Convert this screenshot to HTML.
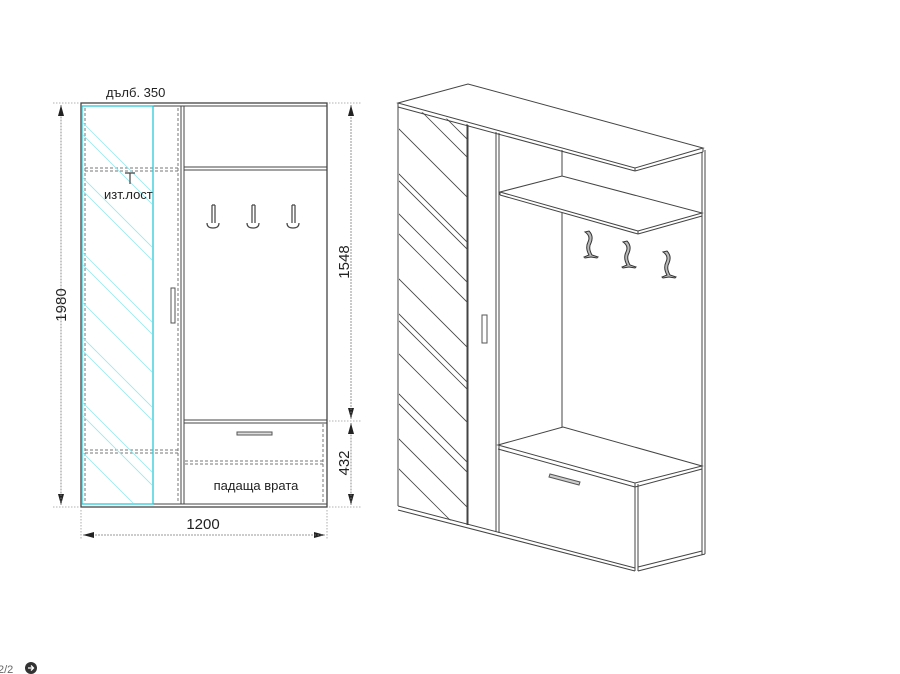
<!DOCTYPE html>
<html><head><meta charset="utf-8"><style>
html,body{margin:0;padding:0;background:#fff;}
svg{display:block;font-family:"Liberation Sans",sans-serif;}
</style></head><body>
<svg width="900" height="674" viewBox="0 0 900 674" xmlns="http://www.w3.org/2000/svg">
<defs>
<clipPath id="mir"><rect x="83" y="107" width="69" height="396"/></clipPath>
<clipPath id="mir2"><polygon points="399,106 467,124 467,525 399,506"/></clipPath>
<marker id="ar" markerUnits="userSpaceOnUse" markerWidth="12" markerHeight="8" refX="11" refY="4" orient="auto"><path d="M0,1 L11,4 L0,7z" fill="#222"/></marker>
</defs>
<g fill="none" stroke="#444" stroke-width="1">
<rect x="81" y="103" width="246" height="404" stroke-width="1.3"/>
<line x1="81" y1="106" x2="327" y2="106"/>
<line x1="81" y1="504" x2="327" y2="504"/>
<line x1="181" y1="106" x2="181" y2="504"/>
<line x1="184" y1="106" x2="184" y2="504"/>
<line x1="184" y1="167" x2="327" y2="167"/>
<line x1="184" y1="170" x2="327" y2="170"/>
<line x1="184" y1="420" x2="327" y2="420"/>
<line x1="184" y1="423" x2="327" y2="423"/>
</g>
<g fill="none" stroke="#777" stroke-width="1" stroke-dasharray="3,2">
<line x1="85" y1="108" x2="85" y2="502"/>
<line x1="178" y1="108" x2="178" y2="502"/>
<line x1="85" y1="168" x2="178" y2="168"/>
<line x1="85" y1="171" x2="178" y2="171"/>
<line x1="85" y1="450" x2="178" y2="450"/>
<line x1="85" y1="453" x2="178" y2="453"/>
<line x1="185" y1="461" x2="323" y2="461"/>
<line x1="185" y1="464" x2="323" y2="464"/>
<line x1="323" y1="424" x2="323" y2="502"/>
</g>
<rect x="82" y="106" width="71" height="398" fill="none" stroke="#2cc8d8" stroke-width="1.3"/>
<g clip-path="url(#mir)" stroke="#9be8ef" stroke-width="0.8">
<line x1="80" y1="120" x2="200" y2="240"/><line x1="80" y1="132" x2="200" y2="252"/>
<line x1="80" y1="175" x2="200" y2="295"/><line x1="80" y1="188" x2="200" y2="308"/>
<line x1="80" y1="250" x2="200" y2="370"/><line x1="80" y1="262" x2="200" y2="382"/>
<line x1="80" y1="300" x2="200" y2="420"/>
<line x1="80" y1="335" x2="200" y2="455"/><line x1="80" y1="348" x2="200" y2="468"/>
<line x1="80" y1="400" x2="200" y2="520"/><line x1="80" y1="413" x2="200" y2="533"/>
<line x1="80" y1="450" x2="200" y2="570"/>
</g>
<rect x="171" y="288" width="4" height="35" fill="#fff" stroke="#555"/>
<rect x="237" y="432" width="35" height="3" fill="#ddd" stroke="#555"/>
<g fill="none" stroke="#444" stroke-width="1.2">
<path d="M212,205 v18 M215,205 v18 M212,205 h3 M207,223 q0,5 6,5 q6,0 6,-5"/>
<path d="M252,205 v18 M255,205 v18 M252,205 h3 M247,223 q0,5 6,5 q6,0 6,-5"/>
<path d="M292,205 v18 M295,205 v18 M292,205 h3 M287,223 q0,5 6,5 q6,0 6,-5"/>
<path d="M125,173 h10 M130,173 v11"/>
</g>
<g font-size="13" fill="#222">
<text x="106" y="97">дълб. 350</text>
<text x="104" y="199">изт.лост</text>
<text x="256" y="490" text-anchor="middle">падаща врата</text>
<text x="203" y="529" text-anchor="middle" font-size="15">1200</text>
<text transform="translate(66,305) rotate(-90)" text-anchor="middle" font-size="15">1980</text>
<text transform="translate(349,262) rotate(-90)" text-anchor="middle" font-size="15">1548</text>
<text transform="translate(349,463) rotate(-90)" text-anchor="middle" font-size="15">432</text>
</g>
<g stroke="#999" stroke-width="0.8" stroke-dasharray="1.5,1.5" fill="none">
<line x1="53" y1="103" x2="80" y2="103"/><line x1="53" y1="507" x2="80" y2="507"/>
<line x1="329" y1="103" x2="362" y2="103"/><line x1="329" y1="507" x2="362" y2="507"/>
<line x1="329" y1="421" x2="362" y2="421"/>
<line x1="81" y1="510" x2="81" y2="540"/><line x1="327" y1="510" x2="327" y2="540"/>
</g>
<g stroke="#888" stroke-width="0.8" stroke-dasharray="1.5,1.5" fill="none" marker-start="url(#ar)" marker-end="url(#ar)">
<line x1="61" y1="105" x2="61" y2="505" marker-start="none"/><line x1="61" y1="505" x2="61" y2="105" marker-start="none"/>
<line x1="351" y1="105" x2="351" y2="419" marker-start="none"/><line x1="351" y1="419" x2="351" y2="105" marker-start="none"/>
<line x1="351" y1="423" x2="351" y2="505" marker-start="none"/><line x1="351" y1="505" x2="351" y2="423" marker-start="none"/>
<line x1="83" y1="535" x2="325" y2="535" marker-start="none"/><line x1="325" y1="535" x2="83" y2="535" marker-start="none"/>
</g>
<g fill="none" stroke="#444" stroke-width="1">
<polygon points="398,103 468,84 703,148 635,168" fill="#fff"/>
<line x1="398" y1="103" x2="398" y2="107"/><line x1="635" y1="168" x2="635" y2="171"/>
<line x1="398" y1="107" x2="635" y2="171"/>
<line x1="703" y1="148" x2="703" y2="152"/><line x1="703" y1="152" x2="635" y2="171"/>
<line x1="398" y1="107" x2="398" y2="506"/>
<line x1="467" y1="124" x2="467" y2="525"/>
<line x1="468" y1="125" x2="468" y2="525"/>
<line x1="496" y1="132" x2="496" y2="532"/>
<line x1="499" y1="133" x2="499" y2="533"/>
<line x1="702" y1="152" x2="702" y2="555"/><line x1="705" y1="150" x2="705" y2="554"/>
<line x1="562" y1="150" x2="562" y2="177"/>
<line x1="562" y1="213" x2="562" y2="427"/>
<polygon points="500,192 562,176 702,213 638,231" fill="#fff"/>
<line x1="500" y1="192" x2="500" y2="195"/><line x1="500" y1="195" x2="638" y2="234"/>
<line x1="638" y1="231" x2="638" y2="234"/><line x1="638" y1="234" x2="702" y2="216"/>
<polygon points="498,445 563,427 702,466 635,483" fill="#fff"/>
<line x1="498" y1="449" x2="635" y2="487"/>
<line x1="635" y1="483" x2="635" y2="571"/><line x1="638" y1="484" x2="638" y2="571"/>
<line x1="635" y1="487" x2="702" y2="469"/>
<line x1="398" y1="506" x2="635" y2="568"/>
<line x1="398" y1="510" x2="635" y2="571"/>
<line x1="638" y1="571" x2="705" y2="554"/>
<line x1="638" y1="567" x2="702" y2="551"/>
</g>
<g clip-path="url(#mir2)" stroke="#444" stroke-width="0.8">
<line x1="390" y1="120" x2="480" y2="210"/><line x1="420" y1="110" x2="480" y2="170"/>
<line x1="440" y1="112" x2="480" y2="152"/>
<line x1="390" y1="165" x2="480" y2="255"/><line x1="390" y1="172" x2="480" y2="262"/>
<line x1="390" y1="205" x2="480" y2="295"/><line x1="390" y1="225" x2="480" y2="315"/>
<line x1="390" y1="270" x2="480" y2="360"/>
<line x1="390" y1="305" x2="480" y2="395"/><line x1="390" y1="312" x2="480" y2="402"/>
<line x1="390" y1="345" x2="480" y2="435"/>
<line x1="390" y1="385" x2="480" y2="475"/><line x1="390" y1="395" x2="480" y2="485"/>
<line x1="390" y1="430" x2="480" y2="520"/><line x1="390" y1="460" x2="480" y2="550"/>
</g>
<rect x="482" y="315" width="5" height="28" fill="#fff" stroke="#555"/>
<polygon points="550,474 580,482 579,485 549,477" fill="#ccc" stroke="#555"/>
<g fill="#bbb" stroke="#333" stroke-width="1">
<path d="M585,232 l4,-1 q5,5 2,12 q-3,5 1,12 l6,2 l-1,1 l-6,-1 l-6,1 l-1,-1 l5,-2 q-4,-7 -1,-13 q3,-6 -3,-10z"/>
<path d="M623,242 l4,-1 q5,5 2,12 q-3,5 1,12 l6,2 l-1,1 l-6,-1 l-6,1 l-1,-1 l5,-2 q-4,-7 -1,-13 q3,-6 -3,-10z"/>
<path d="M663,252 l4,-1 q5,5 2,12 q-3,5 1,12 l6,2 l-1,1 l-6,-1 l-6,1 l-1,-1 l5,-2 q-4,-7 -1,-13 q3,-6 -3,-10z"/>
</g>
<text x="-2" y="673" font-size="11" fill="#666">2/2</text>
<circle cx="31" cy="668" r="6" fill="#333"/>
<path d="M28,668 h5 M31,665.5 l2.5,2.5 l-2.5,2.5" stroke="#fff" stroke-width="1.3" fill="none"/>
</svg>
</body></html>
